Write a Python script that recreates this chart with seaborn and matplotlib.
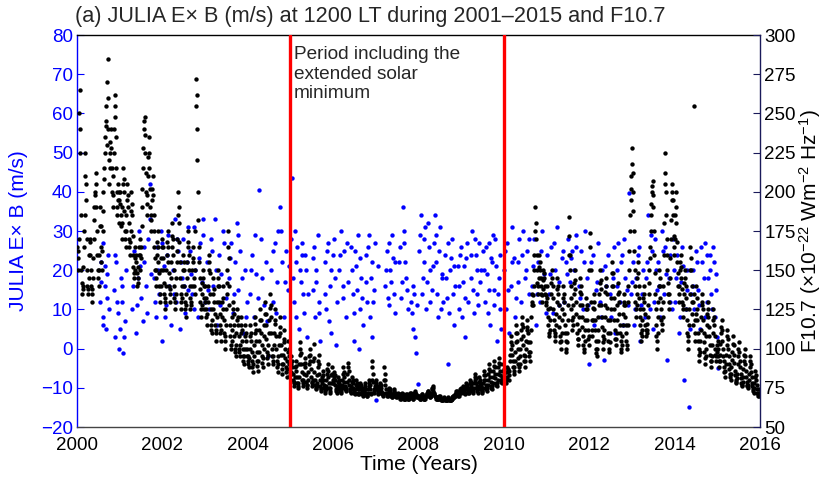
import matplotlib
matplotlib.use("Agg")
import matplotlib.pyplot as plt
import numpy as np
import pandas as pd
import seaborn as sns

# ---------------- data ----------------
# F10.7 solar flux (sfu), two samples per week
f107_2000 = [165, 158, 150, 162, 170, 250, 265, 240, 225, 185, 150, 142, 135, 138, 140, 152, 165, 175, 185, 210, 225, 205, 195, 170, 150, 140,
             135, 138, 145, 160, 170, 168, 160, 150, 140, 135, 130, 138, 145, 158, 170, 182, 190, 198, 200, 205, 212, 190, 175, 160, 150, 145,
             140, 150, 160, 178, 190, 178, 165, 155, 150, 162, 175, 188, 200, 208, 215, 225, 235, 245, 255, 242, 230, 270, 285, 260, 240, 220,
             205, 215, 225, 232, 240, 228, 215, 200, 190, 198, 210, 225, 240, 255, 262, 248, 235, 215, 200, 190, 185, 195, 205, 200, 195, 180]
f107_2001 = [200, 192, 185, 178, 170, 180, 190, 205, 215, 208, 200, 188, 175, 170, 165, 175, 185, 195, 205, 198, 190, 180, 170, 165, 160, 168,
             175, 188, 200, 192, 185, 172, 160, 152, 145, 148, 150, 158, 165, 160, 155, 148, 140, 142, 145, 152, 160, 165, 170, 160, 150, 158,
             165, 178, 190, 202, 215, 228, 240, 245, 248, 236, 225, 212, 200, 192, 185, 198, 210, 222, 235, 225, 215, 202, 190, 182, 175, 185,
             195, 202, 210, 198, 185, 175, 165, 158, 150, 145, 140, 150, 160, 168, 175, 165, 155, 148, 140, 135, 130, 140, 150, 158, 165, 170]
f107_2002 = [165, 158, 150, 142, 135, 130, 125, 132, 140, 150, 160, 168, 175, 165, 155, 148, 140, 135, 130, 138, 145, 155, 165, 172, 180, 170,
             160, 150, 140, 132, 125, 130, 135, 145, 155, 162, 170, 185, 200, 190, 180, 168, 155, 145, 135, 130, 125, 132, 140, 150, 160, 155,
             150, 140, 130, 125, 120, 128, 135, 145, 155, 165, 175, 168, 160, 150, 140, 132, 125, 128, 130, 140, 150, 158, 165, 155, 145, 140,
             135, 150, 175, 255, 272, 262, 240, 220, 200, 182, 165, 155, 145, 138, 130, 125, 120, 128, 135, 142, 150, 145, 140, 132, 125, 130]
f107_2003 = [140, 132, 125, 120, 115, 122, 130, 140, 150, 155, 160, 148, 135, 125, 115, 112, 110, 118, 125, 135, 145, 138, 130, 122, 115, 110,
             105, 112, 120, 130, 140, 145, 150, 140, 130, 122, 115, 110, 105, 112, 120, 130, 140, 132, 125, 118, 110, 105, 100, 108, 115, 125,
             135, 142, 150, 165, 175, 158, 140, 128, 115, 108, 100, 102, 105, 112, 120, 125, 130, 122, 115, 108, 100, 98, 95, 102, 110, 118,
             125, 120, 115, 108, 100, 98, 95, 102, 110, 115, 120, 112, 105, 100, 95, 92, 90, 95, 100, 108, 115, 110, 105, 100, 95, 92]
f107_2004 = [95, 90, 88, 94, 100, 108, 115, 110, 105, 98, 92, 88, 85, 90, 95, 102, 110, 116, 120, 112, 105, 98, 92, 89, 86, 92,
             98, 105, 112, 118, 125, 118, 110, 102, 95, 91, 88, 94, 100, 108, 115, 122, 130, 122, 115, 106, 98, 94, 90, 96, 102, 110,
             118, 126, 135, 128, 120, 110, 100, 95, 90, 92, 95, 102, 110, 118, 125, 116, 108, 100, 92, 88, 85, 90, 95, 102, 108, 114,
             120, 110, 102, 96, 90, 87, 84, 90, 96, 104, 112, 106, 100, 94, 88, 85, 82, 87, 92, 98, 105, 100, 95, 90, 85, 83]
f107_2005 = [85, 90, 95, 92, 88, 84, 80, 78, 76, 79, 82, 88, 92, 89, 86, 82, 78, 76, 75, 78, 82, 90, 96, 100, 104, 97,
             90, 85, 80, 78, 76, 80, 84, 90, 94, 91, 88, 83, 79, 77, 75, 77, 80, 85, 90, 95, 100, 96, 92, 87, 82, 79,
             76, 78, 80, 92, 103, 94, 85, 80, 77, 75, 74, 76, 78, 83, 88, 92, 96, 90, 84, 80, 76, 74, 73, 75, 78, 82,
             86, 83, 80, 77, 75, 73, 72, 74, 76, 80, 84, 87, 90, 86, 82, 78, 75, 73, 72, 75, 78, 83, 88, 84, 80, 78]
f107_2006 = [78, 82, 85, 83, 80, 77, 74, 73, 72, 74, 76, 79, 82, 80, 78, 76, 74, 73, 72, 73, 75, 77, 80, 84, 88, 85,
             82, 79, 76, 74, 73, 74, 75, 79, 84, 88, 91, 86, 80, 77, 74, 73, 72, 74, 76, 79, 82, 80, 78, 75, 73, 72,
             71, 72, 74, 77, 80, 78, 76, 74, 72, 71, 71, 72, 74, 76, 78, 77, 75, 73, 72, 71, 70, 71, 73, 75, 78, 76,
             74, 72, 71, 70, 70, 71, 72, 74, 76, 78, 80, 77, 74, 72, 71, 80, 92, 88, 84, 79, 74, 73, 72, 74, 76, 77]
f107_2007 = [80, 78, 76, 74, 73, 72, 71, 72, 74, 76, 78, 77, 75, 73, 72, 71, 70, 71, 72, 80, 88, 84, 80, 77, 74, 72,
             71, 70, 70, 71, 72, 73, 75, 74, 73, 72, 71, 70, 70, 69, 69, 70, 71, 72, 74, 73, 72, 71, 70, 69, 69, 70,
             70, 71, 72, 71, 71, 70, 69, 68, 68, 69, 70, 71, 72, 71, 70, 69, 68, 68, 68, 68, 69, 70, 71, 71, 70, 69,
             68, 68, 68, 69, 70, 71, 72, 72, 71, 70, 69, 68, 68, 69, 70, 72, 73, 72, 72, 71, 70, 69, 69, 70, 70, 70]
f107_2008 = [70, 69, 69, 68, 68, 68, 69, 70, 71, 71, 70, 69, 68, 68, 68, 68, 69, 70, 70, 71, 71, 72, 73, 73, 72, 71,
             70, 69, 69, 70, 71, 72, 74, 75, 76, 75, 73, 72, 71, 70, 70, 69, 69, 68, 68, 68, 68, 68, 69, 69, 70, 70,
             69, 68, 68, 67, 67, 67, 67, 68, 68, 68, 69, 68, 68, 67, 67, 67, 67, 67, 68, 68, 69, 68, 68, 67, 67, 67,
             67, 67, 68, 68, 69, 70, 70, 69, 69, 70, 70, 71, 71, 72, 73, 73, 72, 71, 70, 70, 71, 72, 73, 74, 75, 74]
f107_2009 = [72, 73, 74, 75, 76, 74, 73, 72, 71, 72, 74, 76, 78, 77, 76, 74, 73, 72, 72, 73, 75, 78, 80, 79, 77, 75,
             74, 73, 72, 73, 75, 78, 80, 82, 84, 81, 78, 76, 74, 73, 72, 74, 76, 79, 82, 80, 78, 76, 74, 73, 72, 73,
             75, 78, 80, 83, 86, 83, 80, 77, 75, 74, 73, 75, 77, 80, 84, 87, 90, 86, 82, 79, 76, 75, 74, 76, 78, 82,
             86, 89, 92, 88, 84, 81, 78, 77, 76, 78, 80, 84, 88, 91, 94, 90, 86, 83, 80, 79, 78, 80, 82, 86, 90, 87]
f107_2010 = [84, 82, 80, 79, 78, 80, 82, 85, 88, 87, 86, 83, 80, 86, 92, 96, 100, 104, 108, 102, 96, 92, 88, 86, 84, 88,
             92, 98, 104, 110, 115, 110, 105, 100, 94, 90, 86, 88, 90, 95, 100, 106, 112, 116, 120, 114, 108, 102, 96, 92, 88, 92,
             95, 100, 105, 112, 118, 114, 110, 104, 98, 95, 92, 98, 104, 112, 120, 128, 135, 130, 128, 134, 140, 150, 160, 175, 190, 180,
             170, 160, 150, 142, 135, 140, 145, 152, 160, 155, 150, 145, 140, 135, 130, 134, 138, 144, 150, 148, 145, 140, 135, 130, 128, 134]
f107_2011 = [140, 132, 125, 120, 115, 110, 108, 112, 118, 126, 135, 142, 150, 145, 140, 132, 125, 118, 112, 108, 105, 110, 115, 122, 130, 138,
             145, 140, 135, 128, 120, 114, 108, 104, 100, 105, 110, 118, 125, 132, 140, 135, 130, 122, 115, 110, 105, 100, 98, 104, 110, 118,
             128, 160, 184, 172, 160, 150, 140, 132, 125, 118, 112, 115, 120, 128, 135, 142, 150, 144, 138, 130, 122, 116, 110, 106, 102, 106,
             112, 120, 128, 136, 145, 140, 135, 128, 120, 114, 108, 102, 98, 100, 105, 112, 118, 125, 132, 128, 125, 118, 112, 106, 102, 108]
f107_2012 = [150, 165, 174, 150, 130, 118, 108, 112, 118, 126, 135, 130, 125, 118, 112, 105, 100, 97, 95, 100, 105, 112, 120, 128, 135, 142,
             150, 144, 138, 128, 120, 114, 108, 104, 100, 106, 112, 120, 128, 136, 145, 140, 135, 126, 118, 110, 105, 100, 98, 104, 110, 118,
             125, 132, 140, 148, 155, 148, 140, 132, 125, 118, 112, 106, 102, 106, 110, 118, 128, 135, 142, 136, 130, 122, 115, 110, 105, 100,
             98, 102, 108, 115, 122, 128, 135, 130, 128, 120, 115, 110, 105, 102, 100, 115, 130, 140, 150, 162, 175, 185, 195, 202, 210, 218]
f107_2013 = [228, 212, 200, 188, 175, 162, 150, 140, 130, 125, 120, 128, 135, 145, 155, 148, 140, 132, 125, 120, 115, 110, 105, 108, 112, 118,
             125, 132, 140, 135, 130, 122, 115, 112, 108, 110, 112, 116, 120, 128, 135, 142, 150, 158, 165, 175, 185, 192, 200, 204, 207, 198,
             190, 175, 160, 148, 135, 125, 115, 108, 100, 105, 110, 120, 130, 140, 150, 145, 140, 132, 125, 118, 112, 116, 120, 130, 140, 160,
             180, 205, 225, 212, 200, 185, 170, 160, 150, 142, 135, 130, 125, 135, 145, 158, 170, 182, 195, 200, 205, 195, 185, 172, 160, 165]
f107_2014 = [170, 185, 200, 190, 180, 168, 155, 148, 140, 135, 130, 140, 150, 155, 160, 152, 145, 138, 130, 125, 120, 128, 135, 142, 150, 145,
             140, 132, 125, 118, 110, 105, 100, 108, 115, 125, 135, 150, 165, 158, 150, 140, 130, 122, 115, 130, 255, 135, 118, 110, 105, 122,
             140, 132, 125, 118, 110, 105, 100, 96, 92, 98, 105, 112, 120, 128, 135, 130, 125, 118, 110, 104, 98, 94, 90, 95, 100, 108,
             115, 122, 130, 125, 120, 114, 108, 102, 96, 92, 88, 92, 95, 102, 110, 118, 125, 120, 115, 108, 100, 96, 92, 95, 98, 102]
f107_2015 = [105, 100, 95, 92, 88, 92, 96, 103, 110, 114, 118, 112, 105, 100, 95, 92, 88, 85, 82, 86, 90, 96, 102, 108, 112, 106,
             100, 95, 90, 87, 84, 82, 80, 84, 88, 93, 98, 103, 108, 102, 96, 91, 86, 83, 80, 79, 78, 81, 84, 90, 95, 100,
             104, 98, 92, 88, 84, 81, 78, 77, 76, 79, 82, 87, 92, 96, 100, 95, 90, 86, 82, 79, 77, 76, 75, 77, 80, 84,
             88, 92, 95, 90, 85, 82, 78, 76, 74, 73, 72, 75, 78, 82, 86, 83, 80, 77, 74, 72, 71, 70, 70, 72, 74, 72]

f107_years = list(range(2000, 2016))

# JULIA ExB vertical drift (m/s) at 1200 LT
exb_time = [
    2000.55, 2000.57, 2000.60, 2000.62, 2000.65, 2000.68, 2000.70, 2000.73, 2000.75,
    2000.86, 2000.89, 2000.92, 2000.95, 2000.98, 2001.02, 2001.05, 2001.08, 2001.12, 2001.15,
    2001.30, 2001.34, 2001.38, 2001.42, 2001.46, 2001.50, 2001.54, 2001.58, 2001.62, 2001.66, 2001.70, 2001.73,
    2001.80, 2001.84, 2001.88, 2001.92, 2001.96, 2002.00, 2002.04, 2002.08, 2002.12, 2002.16, 2002.20,
    2002.25, 2002.29, 2002.33, 2002.37, 2002.41, 2002.45, 2002.49, 2002.53, 2002.57, 2002.60,
    2002.65, 2002.69, 2002.73, 2002.77, 2002.84, 2002.88, 2002.92, 2002.96, 2003.00,
    2003.05, 2003.10, 2003.15, 2003.19, 2003.23, 2003.28, 2003.33, 2003.38, 2003.43, 2003.48,
    2003.55, 2003.60, 2003.65, 2003.70, 2003.74, 2003.78, 2003.83, 2003.88, 2003.93, 2003.98,
    2004.05, 2004.10, 2004.15, 2004.20, 2004.27, 2004.32, 2004.37, 2004.42, 2004.47,
    2004.55, 2004.60, 2004.64, 2004.68, 2004.72, 2004.75, 2004.80, 2004.85, 2004.90, 2004.95,
    2005.02, 2005.04, 2005.08, 2005.12, 2005.16, 2005.20, 2005.24, 2005.28, 2005.32, 2005.36, 2005.40,
    2005.52, 2005.55, 2005.58, 2005.61, 2005.64, 2005.67, 2005.70,
    2005.80, 2005.84, 2005.88, 2005.92, 2005.96, 2006.00, 2006.04, 2006.08,
    2006.14, 2006.18, 2006.22, 2006.26, 2006.30, 2006.34,
    2006.42, 2006.46, 2006.50, 2006.54, 2006.58, 2006.62, 2006.66, 2006.70,
    2006.76, 2006.80, 2006.84, 2006.88, 2006.92, 2006.96, 2007.00, 2007.04,
    2007.22, 2007.26, 2007.30, 2007.34, 2007.38, 2007.42, 2007.46,
    2007.54, 2007.58, 2007.63, 2007.67, 2007.71, 2007.75,
    2007.82, 2007.86, 2007.90, 2007.94, 2007.98,
    2008.02, 2008.06, 2008.10, 2008.14, 2008.18, 2008.22, 2008.26,
    2008.32, 2008.36, 2008.38, 2008.42, 2008.46, 2008.50, 2008.54, 2008.58,
    2008.62, 2008.66, 2008.70, 2008.74, 2008.78, 2008.82, 2008.86,
    2008.92, 2008.96, 2009.00, 2009.04, 2009.08, 2009.12, 2009.16,
    2009.22, 2009.26, 2009.30, 2009.34, 2009.38, 2009.42, 2009.46,
    2009.52, 2009.56, 2009.60, 2009.64, 2009.68, 2009.72, 2009.76, 2009.80, 2009.84, 2009.88, 2009.92,
    2010.00, 2010.04, 2010.08, 2010.12, 2010.16, 2010.20, 2010.24, 2010.28,
    2010.32, 2010.36, 2010.40, 2010.45, 2010.50, 2010.55, 2010.60,
    2010.66, 2010.70, 2010.75, 2010.80, 2010.85, 2010.90, 2010.95, 2011.00,
    2011.05, 2011.10, 2011.15, 2011.20, 2011.25, 2011.30, 2011.35, 2011.40,
    2011.45, 2011.50, 2011.55, 2011.60, 2011.65, 2011.70, 2011.75,
    2011.80, 2011.85, 2011.90, 2011.95, 2012.00, 2012.05, 2012.10, 2012.15, 2012.20,
    2012.25, 2012.30, 2012.35, 2012.40, 2012.45, 2012.50, 2012.55, 2012.60,
    2012.64, 2012.68, 2012.72, 2012.76, 2012.80, 2012.84, 2012.92, 2012.88,
    2012.98, 2013.02, 2013.06, 2013.10, 2013.14, 2013.18, 2013.22, 2013.26, 2013.30,
    2013.34, 2013.38, 2013.42, 2013.46, 2013.50, 2013.54, 2013.58,
    2013.62, 2013.66, 2013.70, 2013.74, 2013.78, 2013.82, 2013.86, 2013.90, 2013.94, 2013.98,
    2014.02, 2014.06, 2014.10, 2014.14, 2014.18, 2014.22, 2014.26, 2014.30, 2014.34, 2014.38,
    2014.42, 2014.46, 2014.50, 2014.55, 2014.60, 2014.65, 2014.70, 2014.75, 2014.79,
    2014.82, 2014.86, 2014.90, 2014.94, 2014.98, 2015.02,
    2000.56, 2000.61, 2000.66, 2000.71, 2000.88, 2000.94, 2001.00, 2001.06, 2001.10,
    2001.32, 2001.40, 2001.48, 2001.56, 2001.64, 2001.72, 2001.82, 2001.90, 2001.98, 2002.06, 2002.14,
    2002.27, 2002.35, 2002.43, 2002.51, 2002.59, 2002.67, 2002.75, 2002.86, 2002.94,
    2003.07, 2003.17, 2003.25, 2003.35, 2003.45, 2003.58, 2003.68, 2003.76, 2003.86, 2003.96,
    2004.07, 2004.17, 2004.24, 2004.34, 2004.44, 2004.58, 2004.66, 2004.78, 2004.88, 2004.97,
    2005.06, 2005.10, 2005.14, 2005.22, 2005.26, 2005.30, 2005.34, 2005.38,
    2005.54, 2005.60, 2005.66,
    2005.82, 2005.86, 2005.90, 2005.94, 2006.02, 2006.06,
    2006.16, 2006.24, 2006.32,
    2006.44, 2006.48, 2006.52, 2006.56, 2006.60, 2006.64, 2006.68,
    2006.78, 2006.82, 2006.86, 2006.90, 2006.94, 2006.98,
    2007.24, 2007.28, 2007.32, 2007.36, 2007.40, 2007.44,
    2007.56, 2007.61, 2007.65, 2007.69, 2007.73,
    2007.84, 2007.88, 2007.92, 2007.96,
    2008.04, 2008.08, 2008.12, 2008.16, 2008.20, 2008.24, 2008.28,
    2008.34, 2008.40, 2008.44, 2008.48, 2008.52, 2008.56,
    2008.64, 2008.68, 2008.72, 2008.76, 2008.80, 2008.84,
    2008.94, 2008.98, 2009.02, 2009.06, 2009.10, 2009.14,
    2009.24, 2009.28, 2009.32, 2009.36, 2009.40, 2009.44,
    2009.54, 2009.58, 2009.62, 2009.66, 2009.70, 2009.74, 2009.78, 2009.82, 2009.86, 2009.90, 2009.94,
    2010.02, 2010.10, 2010.18, 2010.26, 2010.34, 2010.42, 2010.52, 2010.58,
    2010.68, 2010.78, 2010.88, 2010.98, 2011.08, 2011.18, 2011.28, 2011.38,
    2011.48, 2011.58, 2011.68, 2011.78, 2011.88, 2011.98, 2012.08, 2012.18,
    2012.28, 2012.38, 2012.48, 2012.58, 2012.66, 2012.74, 2012.82, 2012.90,
    2013.00, 2013.08, 2013.16, 2013.24, 2013.36, 2013.44, 2013.52, 2013.56,
    2013.64, 2013.72, 2013.80, 2013.88, 2013.96, 2014.04, 2014.12, 2014.20, 2014.28, 2014.36,
    2014.44, 2014.52, 2014.58, 2014.62, 2014.68, 2014.72, 2014.77, 2014.84, 2014.88, 2014.92, 2014.96, 2015.00,
]
exb_vel = [
    12, 22, 8, 27, 16, 5, 19, 24, 10,
    15, 3, 22, 9, 0, 18, 12, -1, 7, 20,
    10, 25, 4, 18, 30, 13, 7, 22, 16, 28, 42, 19,
    18, 8, 26, 14, 30, 2, 21, 11, 24, 16, 6,
    20, 33, 12, 25, 5, 18, 28, 9, 22, 15,
    25, 14, 31, 20, 8, 27, 17, 33, 12,
    22, 10, 28, 16, 33, 6, 24, 19, 30, 13,
    18, 27, 9, 22, 32, 15, 25, 4, 20, 12,
    14, 24, 8, 19, 40.5, 28, 11, 22, -2,
    20, 12, 27, 17, 30, 36, 22, 8, 25, 15,
    28, 43.5, 12, 22, 26, 5, 17, 24, 9, 20, 14,
    15, 26, 8, 20, 29, 12, 2,
    22, 10, 27, 16, 4, 24, 18, 12,
    20, 30, 13, 25, 8, 17,
    26, 14, 2, 21, 29, 10, 18, 6,
    24, 12, 29, 18, 3, 15, -13, 21,
    16, 25, 11, 20, 29, 14, 22,
    22, 13, 36, 27, 18, 10,
    12, 5, 14, -1, -9,
    25, 34, 18, 28, 10, 32, 20,
    15, 27, 34, 22, 8, 31, 18, 12,
    24, 13, -4, 20, 28, 6, 16,
    21, 10, 26, 17, 3, 23, 12,
    18, 30, 9, 24, 14, 27, 20,
    25, 12, 19, 27, 6, 22, 15, 28, 2, 18, 10,
    20, 10, 27, 4, 16, 31, 23, 13,
    22, 28, 12, 30, 18, 25, 14,
    16, 28, 6, 22, 12, 30, 19, 24,
    14, 26, 9, 20, 31, 17, 23, 12,
    22, 28, 17, 25, 20, 29, 16,
    25, 10, 30, 18, -4, 22, 6, 15, 27,
    12, 20, -3, 16, 24, 8, 18, 4,
    20, 27, 12, 24, 6, 18, 39.7, 15,
    14, 22, 6, 18, 24, 2, 11, 20, 8,
    18, 34, 10, 25, 5, 28, 15,
    22, 8, 30, 14, 26, -3, 18, 24, 10, 20,
    12, 24, 4, 17, 26, -8, 10, 20, -15, 14,
    20, 10, 25, 15, 5, 22, 27, 12, 18,
    24, 14, 26, 8, 19, -5,
    17, 6, 21, 13, 24, 12, 5, 16, 3,
    16, 11, 21, 26, 9, 33, 12, 20, 27, 8, 29,
    14, 28, 22, 16, 31, 19, 10, 23, 29,
    15, 25, 20, 11, 27, 23, 14, 29, 18, 8,
    20, 29, 13, 18, 7, 25, 9, 30, 17, 21,
    18, 30, 8, 20, 27, 14, 24, 3,
    23, 17, 9,
    14, 25, 7, 20, 28, 1,
    24, 16, 27,
    20, 9, 25, 15, 0, 23, 13,
    17, 26, 8, 22, 12, 27,
    20, 13, 27, 17, 23, 9,
    26, 17, 30, 22, 15,
    9, 16, 3, 11,
    29, 14, 22, 31, 17, 26, 12,
    21, 29, 14, 25, 10, 19,
    18, 27, 9, 23, 14, 21,
    16, 24, 8, 21, 13, 27,
    24, 15, 28, 20, 11, 17,
    20, 26, 9, 15, 23, 29, 11, 21, 14, 24, 5,
    25, 15, 22, 8, 17, 24, 20, 28,
    21, 14, 25, 9, 19, 27, 11, 25,
    19, 23, 26, 13, 22, 11, 24, 17,
    8, 21, 14, 26, 16, 22, 28, 11,
    17, 10, 26, 14, 22, 29, 12, 20,
    16, 25, 19, 12, 28, 18, 8, 21, 15, 5,
    16, 22, 11, 26, 18, 8, 24, 20, 10, 22, 15, 3,
]

title_text = "(a) JULIA E\u00d7 B (m/s) at 1200 LT during 2001\u20132015 and F10.7"
left_label = "JULIA E\u00d7 B (m/s)"
right_label = "F10.7 (\u00d710$^{-22}$ Wm$^{-2}$ Hz$^{-1}$)"
x_label = "Time (Years)"
note_text = "Period including the\nextended solar\nminimum"
period_bounds = [2005.0, 2010.0]

# ---------------- build tables ----------------
f107_lists = [f107_2000, f107_2001, f107_2002, f107_2003, f107_2004, f107_2005,
              f107_2006, f107_2007, f107_2008, f107_2009, f107_2010, f107_2011,
              f107_2012, f107_2013, f107_2014, f107_2015]
rows = []
for yr, vals in zip(f107_years, f107_lists):
    n = len(vals)
    for k, v in enumerate(vals):
        rows.append((yr + (k + 0.5) / n, v))
df_f107 = pd.DataFrame(rows, columns=["time", "f107"])
df_exb = pd.DataFrame({"time": exb_time, "exb": exb_vel})

# ---------------- style ----------------
sns.set_theme(style="white")
plt.rcParams["font.family"] = ["Liberation Sans", "DejaVu Sans"]
plt.rcParams["mathtext.fontset"] = "custom"
plt.rcParams["mathtext.rm"] = "Liberation Sans"
plt.rcParams["mathtext.it"] = "Liberation Sans:italic"
plt.rcParams["mathtext.bf"] = "Liberation Sans:bold"

W, H = 827, 479
fig = plt.figure(figsize=(W / 100, H / 100), dpi=100)
ax = fig.add_axes([77 / W, 1 - 427 / H, 683 / W, 392 / H])

blue = "#0000ff"
sns.scatterplot(data=df_exb, x="time", y="exb", ax=ax, color=blue, s=10,
                linewidth=0, legend=False, zorder=2)
ax2 = ax.twinx()
sns.scatterplot(data=df_f107, x="time", y="f107", ax=ax2, color="black", s=10,
                linewidth=0, legend=False, zorder=2)

for xb in period_bounds:
    ax2.axvline(xb, color="#ff0000", lw=2.4, zorder=5)

ax.set_xlim(2000, 2016)
ax.set_ylim(-20, 80)
ax2.set_ylim(50, 300)
ax.set_xticks(np.arange(2000, 2017, 2))
ax.set_yticks(np.arange(-20, 81, 10))
ax2.set_yticks(np.arange(50, 301, 25))

fs = 13.5
ax.tick_params(axis="x", direction="in", length=5, width=0.8, labelsize=fs,
               colors="#333333", labelcolor="black", top=False, pad=7)
ax.tick_params(axis="y", direction="in", length=5, width=0.8, labelsize=fs,
               colors=blue, labelcolor=blue, pad=3)
ax2.tick_params(axis="y", direction="in", length=5, width=0.8, labelsize=fs,
                colors="#1a1a5a", labelcolor="black", pad=3)

for name, sp in ax.spines.items():
    sp.set_linewidth(1.0)
ax.spines["left"].set_color(blue)
ax.spines["bottom"].set_color("#444444")
ax.spines["top"].set_color("black")
ax.spines["right"].set_visible(False)
ax2.spines["left"].set_visible(False)
ax2.spines["top"].set_visible(False)
ax2.spines["bottom"].set_visible(False)
ax2.spines["right"].set_color("#1a1a5a")
ax2.spines["right"].set_linewidth(1.0)

ax.set_xlabel(x_label, fontsize=15, color="black", labelpad=1)
ax.set_ylabel(left_label, fontsize=15, color=blue, labelpad=9)
ax2.set_ylabel(right_label, fontsize=15, color="black", labelpad=1)

ax2.text(2005.08, 293, note_text, fontsize=13.7, va="top", ha="left", zorder=6)
fig.text(75 / W, 1 - 22 / H, title_text, fontsize=15.6, ha="left", va="baseline")

fig.savefig("out.png", dpi=100)
